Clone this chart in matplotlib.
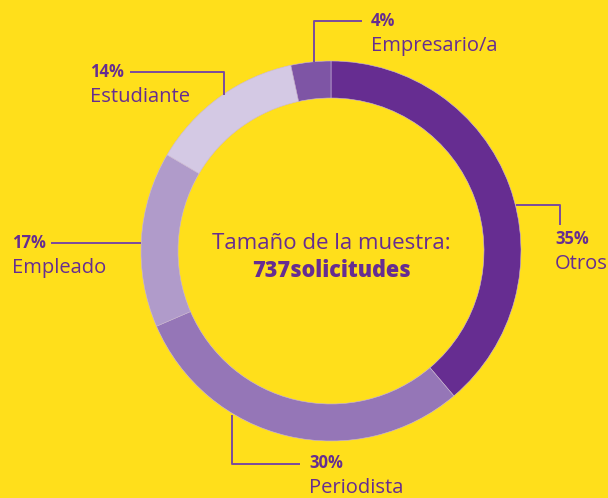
import matplotlib
matplotlib.use("Agg")
import matplotlib.pyplot as plt

categories = ["Otros", "Periodista", "Empleado", "Estudiante", "Empresario/a"]
# arc sizes as drawn in the reference (solicitudes, total 737)
counts = [286, 219, 110, 97, 25]
pct_labels = ["35%", "30%", "17%", "14%", "4%"]
colors = ["#662D91", "#9576B7", "#B09BCA", "#D4C9E4", "#7E55A5"]
center_title = "Tamaño de la muestra:"
center_value = "737solicitudes"

BG = "#FFDF1B"
TXT = "#662D91"
LINE = "#7A4A9E"
H = 498

plt.rcParams['font.family'] = ['Open Sans', 'DejaVu Sans']

fig = plt.figure(figsize=(6.08, 4.98), dpi=100, facecolor=BG)
ax = fig.add_axes([0, 0, 1, 1])
ax.set_facecolor(BG)

cx, cy, R, W = 331, H - 251, 190, 37
ax.pie(counts, colors=colors, startangle=90, counterclock=False,
       center=(cx, cy), radius=R,
       wedgeprops=dict(width=W, edgecolor="#C9B6DA", linewidth=0.4))
ax.set_xlim(0, 608)
ax.set_ylim(0, H)
ax.set_aspect('equal')
ax.axis('off')

def Y(y):
    return H - y

# leader lines (pixel layout, y from top)
leaders = {
    "Otros": [(516, 205), (560, 205), (560, 225)],
    "Periodista": [(232, 415), (232, 464), (300, 464)],
    "Empleado": [(141, 243), (51, 243)],
    "Estudiante": [(224, 95), (224, 72), (130, 72)],
    "Empresario/a": [(314, 62), (314, 21), (362, 21)],
}
label_pos = {
    "Otros": (555, 239),
    "Periodista": (309, 463),
    "Empleado": (12, 243),
    "Estudiante": (90, 72),
    "Empresario/a": (371, 21),
}
for cat, pct in zip(categories, pct_labels):
    pts = leaders[cat]
    ax.plot([p[0] for p in pts], [Y(p[1]) for p in pts], color=LINE, lw=1.4,
            solid_capstyle='butt')
    lx, ly = label_pos[cat]
    ax.text(lx, Y(ly), pct, fontsize=12, fontweight='bold', color=TXT,
            ha='left', va='center')
    ax.text(lx, Y(ly + 25), cat, fontsize=14.5, color=TXT,
            ha='left', va='center')

ax.text(cx, Y(243), center_title, fontsize=16, color=TXT, ha='center', va='center')
ax.text(cx, Y(271), center_value, fontsize=15.5, fontweight='heavy', color=TXT,
        ha='center', va='center')

fig.savefig("out.png", dpi=100, facecolor=BG)
